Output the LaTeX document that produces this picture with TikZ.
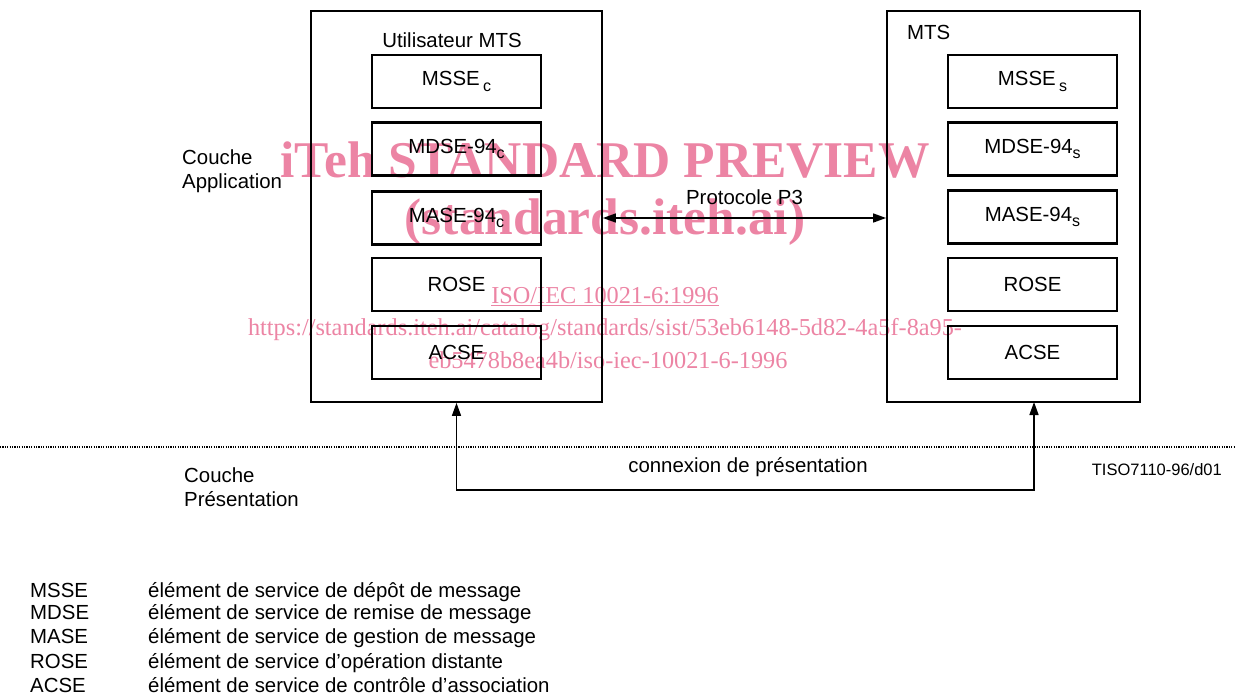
\documentclass[tikz,border=0pt]{standalone}
\usepackage{fontspec}
\setmainfont{Liberation Sans}
\newfontfamily\wmfont{Liberation Serif}
\usetikzlibrary{arrows.meta}

\definecolor{wmpink}{RGB}{236,132,164}
\newcommand{\lowsub}[1]{\raisebox{-0.5ex}{\fontsize{16}{16}\selectfont #1}}

\begin{document}
\begin{tikzpicture}[x=1pt, y=-1pt, font=\fontsize{20.4}{24}\selectfont,
  layerbox/.style={draw, line width=1.8pt, inner sep=0pt, minimum height=391pt},
  elembox/.style={draw, line width=2.2pt, inner sep=0pt, minimum width=169pt, minimum height=53pt},
  plain/.style={inner sep=0pt},
  tip/.style={line width=1.5pt, {Triangle[length=13pt,width=9pt]}-{Triangle[length=13pt,width=9pt]}},
  mark/.style={inner sep=0pt, text=wmpink, font=\wmfont\fontsize{#1}{#1}\selectfont},
  boldmark/.style={inner sep=0pt, text=wmpink, font=\wmfont\bfseries\fontsize{#1}{#1}\selectfont}]
  \useasboundingbox (0, 0) rectangle (1236, 698);

  % watermark (below the drawing)
  \node [boldmark=51.5] (wm1) at (605, 160) {iTeh STANDARD PREVIEW};
  \node [boldmark=51.5] (wm2) at (605, 222) {(standards.iteh.ai)};
  \node [mark=24.3] (wm3) at (605, 297) {\underline{ISO/IEC 10021-6:1996}};
  \node [mark=24.3] (wm4) at (605, 330) {https://standards.iteh.ai/catalog/standards/sist/53eb6148-5d82-4a5f-8a95-};
  \node [mark=24.3] (wm5) at (608, 360) {eb5478b8ea4b/iso-iec-10021-6-1996};

  % entities
  \node [layerbox, minimum width=291pt] (user) at (456.5, 206.5) {};
  \node [layerbox, minimum width=253pt] (mts) at (1013.5, 206.5) {};
  \node [plain] (usertitle) at (452, 40) {Utilisateur MTS};
  \node [plain, anchor=west] (mtstitle) at (907, 32) {MTS};

  \node [elembox] (mssec) at (456.5, 81.5) {MSSE\,\lowsub{c}};
  \node [elembox] (mdsec) at (456.5, 149) {MDSE-94\lowsub{c}};
  \node [elembox] (masec) at (456.5, 218) {MASE-94\lowsub{c}};
  \node [elembox] (rosec) at (456.5, 284.5) {ROSE};
  \node [elembox] (acsec) at (456.5, 352.5) {ACSE};

  \node [elembox] (msses) at (1032.5, 81.5) {MSSE\,\lowsub{s}};
  \node [elembox] (mdses) at (1032.5, 149) {MDSE-94\lowsub{s}};
  \node [elembox] (mases) at (1032.5, 217) {MASE-94\lowsub{s}};
  \node [elembox] (roses) at (1032.5, 284.5) {ROSE};
  \node [elembox] (acses) at (1032.5, 352.5) {ACSE};

  % layers
  \node [plain, anchor=base west, align=left] (applayer) at (182, 188) {Couche\\Application};
  \node [plain, anchor=base west, align=left] (preslayer) at (184, 506) {Couche\\Pr\'esentation};
  \draw [line width=2pt, dash pattern=on 1.2pt off 1.2pt] (0, 447) -- (1236, 447);

  % protocols
  \draw [tip] (user.east |- masec.center) -- (mts.west |- masec.center)
    node [plain, midway, above=13pt] (p3) {Protocole P3};
  \coordinate (mtsport) at (1034, 402);
  \coordinate (pres) at (745, 490);
  \draw [tip] (user.south) |- (pres) -| (mtsport);
  \node [plain] (preslabel) at (748, 467) {connexion de pr\'esentation};
  \node [plain, anchor=east, font=\fontsize{16.5}{18}\selectfont] (figref) at (1222, 470) {TISO7110-96/d01};

  % legend
  \node [plain, anchor=base west] (kmsse) at (30, 597) {MSSE};
  \node [plain, anchor=base west] (kmdse) at (30, 619) {MDSE};
  \node [plain, anchor=base west] (kmase) at (30, 643) {MASE};
  \node [plain, anchor=base west] (krose) at (30, 668) {ROSE};
  \node [plain, anchor=base west] (kacse) at (30, 692) {ACSE};
  \node [plain, anchor=base west] (dmsse) at (148, 597) {\'el\'ement de service de d\'ep\^ot de message};
  \node [plain, anchor=base west] (dmdse) at (148, 619) {\'el\'ement de service de remise de message};
  \node [plain, anchor=base west] (dmase) at (148, 643) {\'el\'ement de service de gestion de message};
  \node [plain, anchor=base west] (drose) at (148, 668) {\'el\'ement de service d'op\'eration distante};
  \node [plain, anchor=base west] (dacse) at (148, 692) {\'el\'ement de service de contr\^ole d'association};
\end{tikzpicture}
\end{document}
